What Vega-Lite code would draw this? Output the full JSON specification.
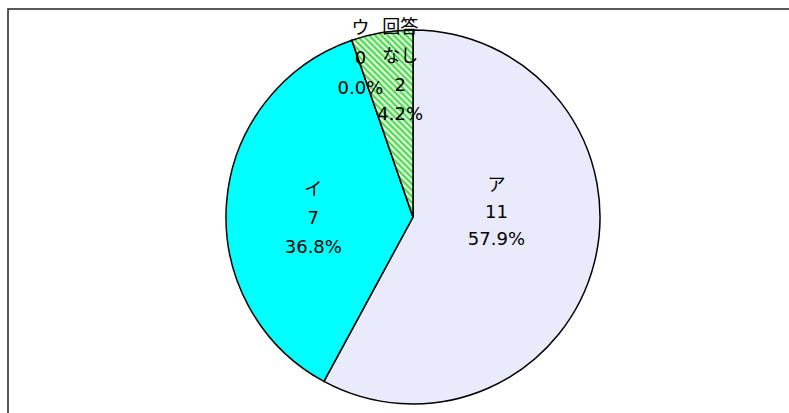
{
  "$schema": "https://vega.github.io/schema/vega-lite/v6.json",
  "autosize": "none",
  "width": 810,
  "height": 416,
  "padding": {"left": 8, "top": 9, "right": 0, "bottom": 0},
  "background": "white",
  "config": {"view": {"stroke": null}},
  "data": {"values": [
    {"name": "ア", "n": 11, "pct": 57.9, "share": 57.9},
    {"name": "イ", "n": 7, "pct": 36.8, "share": 36.8},
    {"name": "ウ", "n": 0, "pct": 0.0, "share": 0.0},
    {"name": "回答なし", "n": 2, "pct": 4.2, "share": 5.3}
  ]},
  "transform": [
    {"calculate": "(datum.name == '回答なし' ? '回答\\nなし' : datum.name) + '\\n' + datum.n + '\\n' + format(datum.pct, '.1f') + '%'", "as": "label"}
  ],
  "layer": [
    {
      "data": {"values": [{"frame": 1}]},
      "mark": {"type": "rect", "fill": "#ffffff", "fillOpacity": 0, "stroke": "#222222", "strokeWidth": 1.5},
      "encoding": {}
    },
    {
      "mark": {"type": "arc", "radius": 187, "stroke": "#000000", "strokeWidth": 1.5},
      "encoding": {
        "theta": {"field": "share", "type": "quantitative", "stack": true},
        "fill": {
          "condition": [
            {"test": "datum.name == 'ア'", "value": "#eaeafd"},
            {"test": "datum.name == 'イ'", "value": "#00ffff"},
            {"test": "datum.name == '回答なし'", "value": {
              "gradient": "linear", "x1": 0, "y1": 1, "x2": 0.392, "y2": -0.2,
              "stops": [
                {"offset": 0, "color": "#33d633"}, {"offset": 0.0125, "color": "#ffffff"},
                {"offset": 0.025, "color": "#33d633"}, {"offset": 0.0375, "color": "#ffffff"},
                {"offset": 0.05, "color": "#33d633"}, {"offset": 0.0625, "color": "#ffffff"},
                {"offset": 0.075, "color": "#33d633"}, {"offset": 0.0875, "color": "#ffffff"},
                {"offset": 0.1, "color": "#33d633"}, {"offset": 0.1125, "color": "#ffffff"},
                {"offset": 0.125, "color": "#33d633"}, {"offset": 0.1375, "color": "#ffffff"},
                {"offset": 0.15, "color": "#33d633"}, {"offset": 0.1625, "color": "#ffffff"},
                {"offset": 0.175, "color": "#33d633"}, {"offset": 0.1875, "color": "#ffffff"},
                {"offset": 0.2, "color": "#33d633"}, {"offset": 0.2125, "color": "#ffffff"},
                {"offset": 0.225, "color": "#33d633"}, {"offset": 0.2375, "color": "#ffffff"},
                {"offset": 0.25, "color": "#33d633"}, {"offset": 0.2625, "color": "#ffffff"},
                {"offset": 0.275, "color": "#33d633"}, {"offset": 0.2875, "color": "#ffffff"},
                {"offset": 0.3, "color": "#33d633"}, {"offset": 0.3125, "color": "#ffffff"},
                {"offset": 0.325, "color": "#33d633"}, {"offset": 0.3375, "color": "#ffffff"},
                {"offset": 0.35, "color": "#33d633"}, {"offset": 0.3625, "color": "#ffffff"},
                {"offset": 0.375, "color": "#33d633"}, {"offset": 0.3875, "color": "#ffffff"},
                {"offset": 0.4, "color": "#33d633"}, {"offset": 0.4125, "color": "#ffffff"},
                {"offset": 0.425, "color": "#33d633"}, {"offset": 0.4375, "color": "#ffffff"},
                {"offset": 0.45, "color": "#33d633"}, {"offset": 0.4625, "color": "#ffffff"},
                {"offset": 0.475, "color": "#33d633"}, {"offset": 0.4875, "color": "#ffffff"},
                {"offset": 0.5, "color": "#33d633"}, {"offset": 0.5125, "color": "#ffffff"},
                {"offset": 0.525, "color": "#33d633"}, {"offset": 0.5375, "color": "#ffffff"},
                {"offset": 0.55, "color": "#33d633"}, {"offset": 0.5625, "color": "#ffffff"},
                {"offset": 0.575, "color": "#33d633"}, {"offset": 0.5875, "color": "#ffffff"},
                {"offset": 0.6, "color": "#33d633"}, {"offset": 0.6125, "color": "#ffffff"},
                {"offset": 0.625, "color": "#33d633"}, {"offset": 0.6375, "color": "#ffffff"},
                {"offset": 0.65, "color": "#33d633"}, {"offset": 0.6625, "color": "#ffffff"},
                {"offset": 0.675, "color": "#33d633"}, {"offset": 0.6875, "color": "#ffffff"},
                {"offset": 0.7, "color": "#33d633"}, {"offset": 0.7125, "color": "#ffffff"},
                {"offset": 0.725, "color": "#33d633"}, {"offset": 0.7375, "color": "#ffffff"},
                {"offset": 0.75, "color": "#33d633"}, {"offset": 0.7625, "color": "#ffffff"},
                {"offset": 0.775, "color": "#33d633"}, {"offset": 0.7875, "color": "#ffffff"},
                {"offset": 0.8, "color": "#33d633"}, {"offset": 0.8125, "color": "#ffffff"},
                {"offset": 0.825, "color": "#33d633"}, {"offset": 0.8375, "color": "#ffffff"},
                {"offset": 0.85, "color": "#33d633"}, {"offset": 0.8625, "color": "#ffffff"},
                {"offset": 0.875, "color": "#33d633"}, {"offset": 0.8875, "color": "#ffffff"},
                {"offset": 0.9, "color": "#33d633"}, {"offset": 0.9125, "color": "#ffffff"},
                {"offset": 0.925, "color": "#33d633"}, {"offset": 0.9375, "color": "#ffffff"},
                {"offset": 0.95, "color": "#33d633"}, {"offset": 0.9625, "color": "#ffffff"},
                {"offset": 0.975, "color": "#33d633"}, {"offset": 0.9875, "color": "#ffffff"},
                {"offset": 1, "color": "#33d633"}
              ]
            }}
          ],
          "value": "#ffffff"
        }
      }
    },
    {
      "mark": {"type": "text", "radius": 84, "dx": 2, "dy": -52, "font": "DejaVu Sans, Noto Sans CJK JP", "fontSize": 18, "lineHeight": 27, "lineBreak": "\n", "align": "center", "baseline": "middle", "color": "#000000"},
      "encoding": {
        "theta": {"field": "share", "type": "quantitative", "stack": true},
        "text": {"condition": {"test": "datum.name == 'ア'", "field": "label"}, "value": ""}
      }
    },
    {
      "mark": {"type": "text", "radius": 100, "dx": 0, "dy": -19, "font": "DejaVu Sans, Noto Sans CJK JP", "fontSize": 18, "lineHeight": 29, "lineBreak": "\n", "align": "center", "baseline": "middle", "color": "#000000"},
      "encoding": {
        "theta": {"field": "share", "type": "quantitative", "stack": true},
        "text": {"condition": {"test": "datum.name == 'イ'", "field": "label"}, "value": ""}
      }
    },
    {
      "mark": {"type": "text", "radius": 167, "dx": 2, "dy": -30, "font": "DejaVu Sans, Noto Sans CJK JP", "fontSize": 18, "lineHeight": 30, "lineBreak": "\n", "align": "center", "baseline": "middle", "color": "#000000"},
      "encoding": {
        "theta": {"field": "share", "type": "quantitative", "stack": true},
        "text": {"condition": {"test": "datum.name == 'ウ'", "field": "label"}, "value": ""}
      }
    },
    {
      "mark": {"type": "text", "radius": 150, "dx": 12, "dy": -41, "font": "DejaVu Sans, Noto Sans CJK JP", "fontSize": 18, "lineHeight": 29, "lineBreak": "\n", "align": "center", "baseline": "middle", "color": "#000000"},
      "encoding": {
        "theta": {"field": "share", "type": "quantitative", "stack": true},
        "text": {"condition": {"test": "datum.name == '回答なし'", "field": "label"}, "value": ""}
      }
    }
  ]
}
